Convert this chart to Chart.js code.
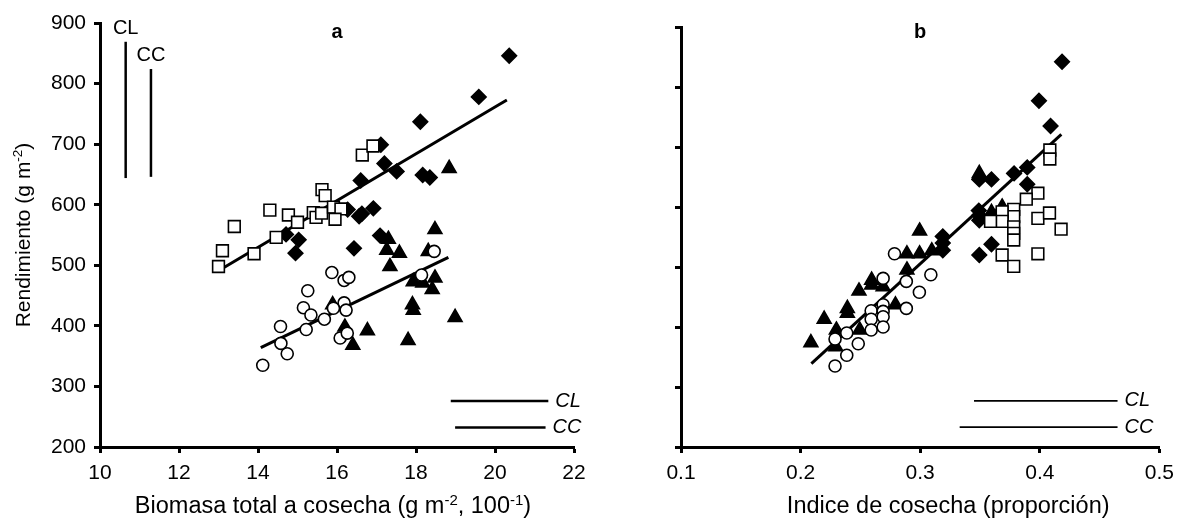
<!DOCTYPE html>
<html>
<head>
<meta charset="utf-8">
<script src="https://cdn.jsdelivr.net/npm/chart.js@4.4.1/dist/chart.umd.min.js"></script>
<style>
  html, body { margin: 0; padding: 0; background: #fff; }
  #wrap { position: relative; width: 1182px; height: 523px; }
  canvas { position: absolute; top: 0; }
  #chartA { left: 0; }
  #chartB { left: 600px; }
</style>
</head>
<body>
<div id="wrap">
  <canvas id="chartA" width="600" height="523"></canvas>
  <canvas id="chartB" width="582" height="523"></canvas>
</div>
<script>
const FAMILIA = "'Liberation Sans', Arial, sans-serif";

// ---- Panel a: rendimiento vs biomasa total (g m-2 / 100) ----
const biomasaCuadrados = [13.0, 13.1, 13.4, 13.9, 14.3, 14.46, 14.77, 15.0, 15.40, 15.47, 15.61, 15.62, 15.70, 15.91, 16.10, 15.95, 16.64, 16.91];
const rendCuadradosA   = [498, 524, 564, 519, 591, 546, 583, 571, 587, 579, 586, 625, 615, 596, 593, 576, 682, 697];

const biomasaRombos = [14.71, 15.03, 14.95, 16.27, 16.60, 16.63, 16.56, 16.92, 17.09, 16.43, 17.20, 17.11, 17.51, 20.36, 19.59, 18.11, 18.17, 18.35];
const rendRombosA   = [551, 542, 520, 592, 640, 585, 581, 594, 549, 528, 668, 699, 655, 846, 778, 737, 649, 645];

const biomasaCirculos = [14.12, 14.74, 14.58, 14.57, 15.26, 15.15, 15.34, 15.22, 15.68, 15.91, 15.87, 16.18, 16.30, 16.18, 16.23, 16.08, 16.26, 18.46, 18.14];
const rendCirculosA   = [335, 354, 371, 399, 458, 430, 418, 394, 411, 429, 488, 475, 480, 438, 426, 380, 388, 523, 484];

const biomasaTriangulos = [18.84, 18.48, 17.30, 17.26, 17.58, 17.34, 18.31, 18.48, 17.93, 18.17, 18.41, 17.91, 17.93, 18.99, 17.80, 15.89, 16.20, 16.40, 16.77];
const rendTriangulosA   = [660, 559, 543, 525, 520, 498, 523, 479, 473, 471, 460, 435, 426, 414, 376, 435, 398, 368, 392];

// rectas de regresión (extremos)
const rectaSupA_x = [13.0, 20.3];
const rectaSupA_y = [491, 773];
const rectaInfA_x = [14.07, 18.82];
const rectaInfA_y = [364, 513];

// barras CL / CC
const barrasA_x = [[10.65, 10.65], [11.29, 11.29], [18.88, 21.35], [18.99, 21.28]];
const barrasA_y = [[644, 869], [646, 824], [276, 276], [232, 232]];
const barrasA_txt = ['CL', 'CC', 'CL', 'CC'];

// ---- Panel b: rendimiento vs índice de cosecha ----
const icRombos     = [0.4186, 0.3993, 0.409, 0.3895, 0.3785, 0.3895, 0.3596, 0.3494, 0.349, 0.3494, 0.3596, 0.3494, 0.3189, 0.3189, 0.3494, 0.3189];
const rendRombosB  = [842, 777, 735, 666, 656, 638, 646, 646, 594, 578, 538, 520, 551, 528, 586, 540];

const icCuadrados    = [0.4084, 0.4084, 0.3984, 0.3887, 0.3782, 0.3782, 0.3685, 0.3685, 0.3588, 0.3782, 0.3782, 0.3782, 0.3984, 0.4081, 0.4178, 0.3685, 0.3782, 0.3984];
const rendCuadradosB = [695, 680, 623, 613, 596, 584, 592, 576, 576, 567, 556, 545, 581, 590, 563, 520, 501, 522];

const icCirculos    = [0.2288, 0.2288, 0.2386, 0.2386, 0.2482, 0.2590, 0.2590, 0.2590, 0.2690, 0.2690, 0.2690, 0.2690, 0.2690, 0.2884, 0.2884, 0.2993, 0.3089, 0.2785];
const rendCirculosB = [380, 335, 390, 353, 372, 427, 413, 395, 437, 426, 417, 400, 481, 476, 431, 458, 487, 522];

const icTriangulos    = [0.2086, 0.2197, 0.2299, 0.2294, 0.2391, 0.2391, 0.2488, 0.2494, 0.2594, 0.2594, 0.2690, 0.2793, 0.2889, 0.2889, 0.2995, 0.3097, 0.2995, 0.3494, 0.3596, 0.3685];
const rendTriangulosB = [374, 413, 395, 367, 431, 423, 460, 395, 478, 470, 467, 437, 495, 522, 522, 527, 560, 656, 591, 600];

const rectaB_x = [0.209, 0.418];
const rectaB_y = [339, 721];

const barrasB_x = [[0.345, 0.465], [0.333, 0.465]];
const barrasB_y = [[277, 277], [233, 233]];
const barrasB_txt = ['CL', 'CC'];

// ---- helpers ----
function pts(xs, ys) { return xs.map((x, i) => ({ x, y: ys[i] })); }

function marcadores(label, xs, ys, estilo, relleno, radio, orden) {
  return {
    label, data: pts(xs, ys),
    pointStyle: estilo, pointRadius: radio, pointHoverRadius: radio,
    pointBackgroundColor: relleno, pointBorderColor: '#000', pointBorderWidth: 1.6,
    showLine: false, order: orden
  };
}

function linea(xs, ys, ancho) {
  return {
    data: pts(xs, ys), showLine: true, borderColor: '#000', borderWidth: ancho,
    pointRadius: 0, pointHoverRadius: 0, fill: false, order: 10
  };
}

// tramos de texto con superíndices; tam = [normal, sup]
function dibujarTramos(ctx, tramos, tam, cx, cy, rot) {
  const normal = tam[0] + 'px ' + FAMILIA, sup = tam[1] + 'px ' + FAMILIA;
  let total = 0;
  tramos.forEach(t => { ctx.font = t.sup ? sup : normal; total += ctx.measureText(t.t).width; });
  ctx.save();
  ctx.translate(cx, cy);
  ctx.rotate(rot);
  ctx.textAlign = 'left';
  ctx.textBaseline = 'alphabetic';
  let x = -total / 2;
  const base = Math.round(tam[0] * 0.36);
  tramos.forEach(t => {
    ctx.font = t.sup ? sup : normal;
    ctx.fillText(t.t, x, t.sup ? 0 : base);
    x += ctx.measureText(t.t).width;
  });
  ctx.restore();
}

// letras de panel, títulos de ejes y rótulos CL/CC
const textos = {
  id: 'textos',
  afterDraw(chart, args, o) {
    const ctx = chart.ctx, area = chart.chartArea;
    const sx = chart.scales.x, sy = chart.scales.y;
    const cx = (area.left + area.right) / 2;
    ctx.save();
    ctx.fillStyle = '#000';
    ctx.font = 'bold 20px ' + FAMILIA;
    ctx.textAlign = 'center';
    ctx.textBaseline = 'middle';
    ctx.fillText(o.letra, cx, o.letraY);

    dibujarTramos(ctx, o.tituloX, [23.5, 15], cx + o.tituloXDesp, o.tituloXY, 0);
    if (o.tituloY) dibujarTramos(ctx, o.tituloY, [21, 13.5], o.tituloYX, (area.top + area.bottom) / 2, -Math.PI / 2);

    o.barrasX.forEach((bx, i) => {
      const by = o.barrasY[i];
      const x0 = sx.getPixelForValue(bx[0]), x1 = sx.getPixelForValue(bx[1]);
      const y0 = sy.getPixelForValue(by[0]), y1 = sy.getPixelForValue(by[1]);
      if (bx[0] === bx[1]) {
        ctx.font = '20px ' + FAMILIA;
        ctx.textAlign = 'center';
        ctx.textBaseline = 'alphabetic';
        ctx.fillText(o.barrasTxt[i], x0, Math.min(y0, y1) - 8);
      } else {
        ctx.font = 'italic 20px ' + FAMILIA;
        ctx.textAlign = 'left';
        ctx.textBaseline = 'middle';
        ctx.fillText(o.barrasTxt[i], Math.max(x0, x1) + 7, y0);
      }
    });
    ctx.restore();
  }
};

function ejes(xMin, xMax, xPaso, anchoY, etiquetasY) {
  const rejilla = { drawOnChartArea: false, drawTicks: true, tickLength: 6, tickWidth: 3, tickColor: '#000' };
  const borde = { display: true, color: '#000', width: 3 };
  return {
    x: {
      type: 'linear', min: xMin, max: xMax,
      ticks: { stepSize: xPaso, color: '#000', font: { size: 21, family: FAMILIA }, padding: 8, maxRotation: 0, autoSkip: false },
      grid: rejilla, border: borde,
      afterFit: s => { s.height = 76; }
    },
    y: {
      type: 'linear', min: 200, max: 900,
      ticks: {
        stepSize: 100, color: '#000', font: { size: 21, family: FAMILIA }, padding: 8,
        callback: v => etiquetasY ? v : ''
      },
      grid: rejilla, border: borde,
      afterFit: s => { s.width = anchoY; }
    }
  };
}

Chart.defaults.font.family = FAMILIA;
Chart.defaults.color = '#000';

const datosA = [
  marcadores('Triángulos', biomasaTriangulos, rendTriangulosA, 'triangle', '#000', 8, 4),
  marcadores('Rombos', biomasaRombos, rendRombosA, 'rectRot', '#000', 7.3, 3),
  marcadores('Círculos', biomasaCirculos, rendCirculosA, 'circle', '#fff', 6, 2),
  marcadores('Cuadrados', biomasaCuadrados, rendCuadradosA, 'rect', '#fff', 8.3, 1),
  linea(rectaSupA_x, rectaSupA_y, 3),
  linea(rectaInfA_x, rectaInfA_y, 3),
  ...barrasA_x.map((bx, i) => linea(bx, barrasA_y[i], 2.5))
];

const datosB = [
  marcadores('Triángulos', icTriangulos, rendTriangulosB, 'triangle', '#000', 8, 4),
  marcadores('Rombos', icRombos, rendRombosB, 'rectRot', '#000', 7.3, 3),
  marcadores('Círculos', icCirculos, rendCirculosB, 'circle', '#fff', 6, 2),
  marcadores('Cuadrados', icCuadrados, rendCuadradosB, 'rect', '#fff', 8.3, 1),
  linea(rectaB_x, rectaB_y, 3),
  ...barrasB_x.map((bx, i) => linea(bx, barrasB_y[i], 1.8))
];

new Chart(document.getElementById('chartA'), {
  type: 'scatter',
  data: { datasets: datosA },
  options: {
    responsive: false, animation: false,
    layout: { padding: { left: 0, top: 23, right: 26, bottom: 0 } },
    scales: ejes(10, 22, 2, 100, true),
    plugins: {
      legend: { display: false }, tooltip: { enabled: false },
      textos: {
        letra: 'a', letraY: 32,
        tituloX: [{ t: 'Biomasa total a cosecha (g m' }, { t: '-2', sup: true }, { t: ', 100' }, { t: '-1', sup: true }, { t: ')' }],
        tituloXY: 505, tituloXDesp: -4,
        tituloY: [{ t: 'Rendimiento (g m' }, { t: '-2', sup: true }, { t: ')' }],
        tituloYX: 22,
        barrasX: barrasA_x, barrasY: barrasA_y, barrasTxt: barrasA_txt
      }
    }
  },
  plugins: [textos]
});

new Chart(document.getElementById('chartB'), {
  type: 'scatter',
  data: { datasets: datosB },
  options: {
    responsive: false, animation: false,
    layout: { padding: { left: 0, top: 27, right: 20, bottom: 0 } },
    scales: ejes(0.1, 0.5, 0.1, 81, false),
    plugins: {
      legend: { display: false }, tooltip: { enabled: false },
      textos: {
        letra: 'b', letraY: 32,
        tituloX: [{ t: 'Indice de cosecha (proporción)' }],
        tituloXY: 505, tituloXDesp: 28,
        barrasX: barrasB_x, barrasY: barrasB_y, barrasTxt: barrasB_txt
      }
    }
  },
  plugins: [textos]
});
</script>
</body>
</html>
